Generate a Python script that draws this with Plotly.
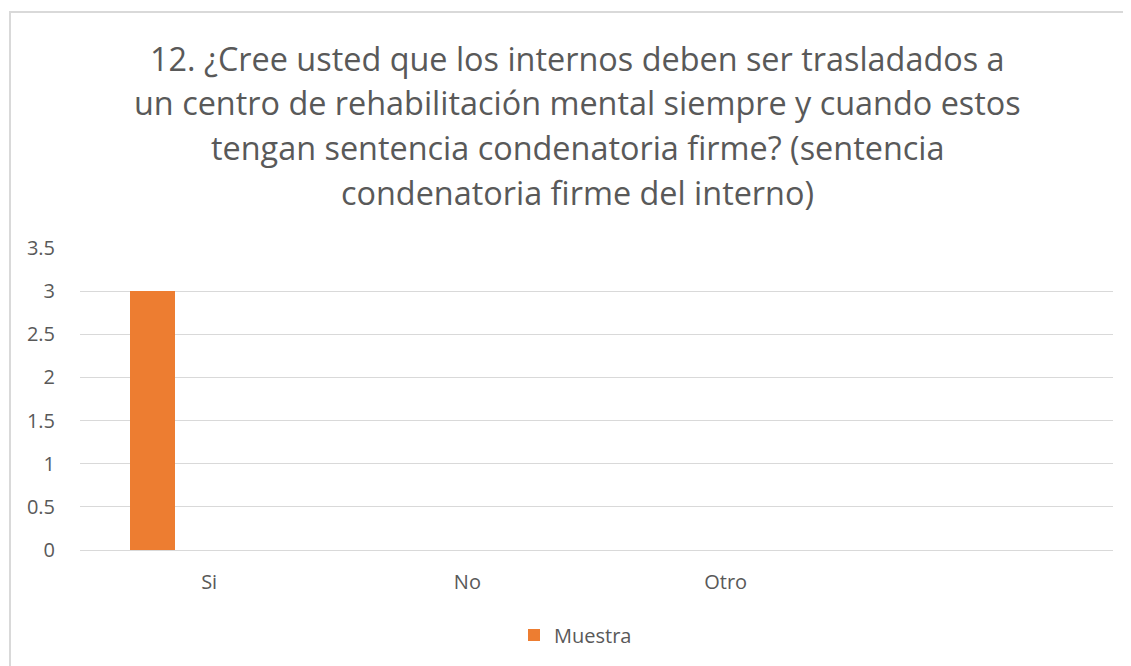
import plotly.graph_objects as go

# data
categories = ["Si", "No", "Otro"]
muestra = [3, 0, 0]
y_ticks = [0, 0.5, 1, 1.5, 2, 2.5, 3, 3.5]
y_tick_labels = ["0", "0.5", "1", "1.5", "2", "2.5", "3", "3.5"]

title_lines = [
    "12. ¿Cree usted que los internos deben ser trasladados a",
    "un centro de rehabilitación mental siempre y cuando estos",
    "tengan sentencia condenatoria firme? (sentencia",
    "condenatoria firme del interno)",
]

# the page body adds an 8px margin, so the figure is shifted by that much
OFF = 8
W, H = 1131 - OFF, 666 - OFF
L, T = 80 - OFF, 248 - OFF
R = W + OFF - 1113
B = H + OFF - 550
plot_w = W - L - R
plot_h = H - T - B

FONT = "'Open Sans', 'Noto Sans', sans-serif"
GREY = "#595959"


def px_x(px):
    return (px - OFF - L) / plot_w


def px_y(py):
    return (H - B - (py - OFF)) / plot_h


fig = go.Figure()
fig.add_trace(go.Bar(
    x=categories, y=muestra, name="Muestra",
    marker=dict(color="#ED7D31", line=dict(width=0)),
    width=0.175, offset=-0.306,
))

fig.update_layout(
    width=W, height=H,
    margin=dict(l=L, r=R, t=T, b=B),
    paper_bgcolor="white", plot_bgcolor="white",
    font=dict(family=FONT, color=GREY),
    showlegend=True,
    legend=dict(orientation="h", x=px_x(514), xanchor="left",
                y=px_y(635), yanchor="middle", itemwidth=30,
                font=dict(size=20, color=GREY)),
    bargap=0,
)

# title, one annotation per line so the line spacing matches
for i, line in enumerate(title_lines):
    fig.add_annotation(
        text=line, xref="paper", yref="paper",
        x=px_x(577), xanchor="center",
        y=px_y(58 + 44.5 * i), yanchor="middle",
        showarrow=False, font=dict(size=32.4, color=GREY, family=FONT),
    )

fig.update_xaxes(
    type="category", range=[-0.5, 3.5],
    showgrid=False, showline=False, zeroline=False,
    ticks="outside", ticklen=14, tickcolor="rgba(0,0,0,0)",
    tickfont=dict(size=20, color=GREY),
)
fig.update_yaxes(
    range=[0, 3.5], tickvals=y_ticks, ticktext=y_tick_labels,
    showgrid=True, gridcolor="#d9d9d9", gridwidth=1,
    zeroline=True, zerolinecolor="#d9d9d9", zerolinewidth=1,
    showline=False,
    ticks="outside", ticklen=20, tickcolor="rgba(0,0,0,0)",
    tickfont=dict(size=20, color=GREY),
)

# chart frame (Excel chart area border), only left and top edges are in view
fig.add_shape(type="line", xref="paper", yref="paper",
              x0=px_x(10), x1=px_x(10), y0=px_y(11), y1=px_y(700),
              line=dict(color="#d9d9d9", width=2))
fig.add_shape(type="line", xref="paper", yref="paper",
              x0=px_x(9), x1=px_x(1140), y0=px_y(12), y1=px_y(12),
              line=dict(color="#d9d9d9", width=2))

fig.write_html("out.html")
